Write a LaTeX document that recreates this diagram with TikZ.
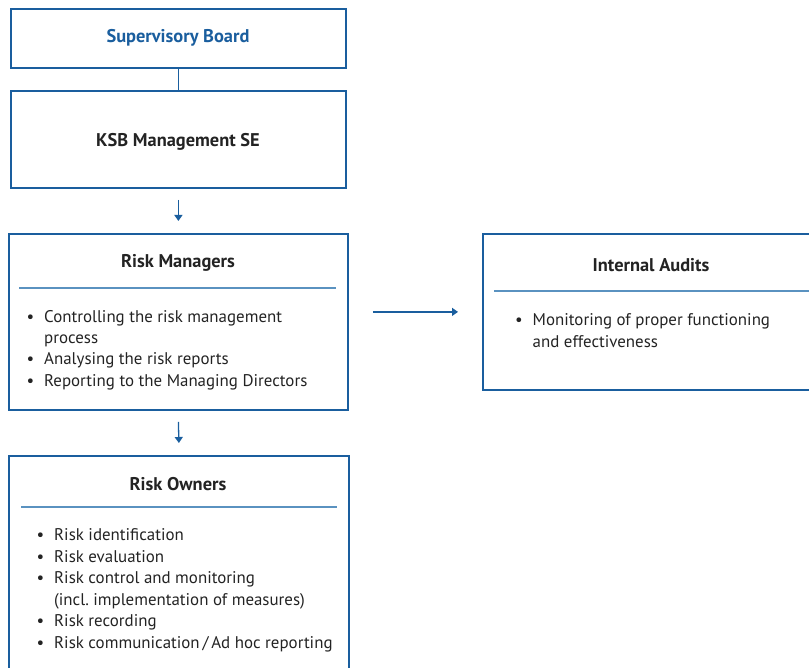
\documentclass[tikz,border=0pt]{standalone}
\usepackage{fontspec}
\setmainfont{PT Sans}
\usetikzlibrary{arrows.meta,calc}
\definecolor{ksbblue}{HTML}{1A5E9E}
\definecolor{seplight}{HTML}{5A92C0}
\definecolor{txt}{HTML}{232323}
\tikzset{
  box/.style={draw=ksbblue, line width=1.8pt, anchor=north west, inner sep=0pt},
  title/.style={font=\fontsize{18.4}{20}\selectfont\bfseries, text=txt, inner sep=0pt},
  listtext/.style={font=\fontsize{16.9}{21.5}\selectfont, text=txt, align=left, inner sep=0pt, anchor=base west},
  sepline/.style={draw=seplight, line width=1.3pt},
  conn/.style={draw=ksbblue, line width=1.3pt},
  arr/.style={conn, -{Triangle[width=8pt,length=6pt]}}
}
\newcommand{\bl}{\makebox[17.5pt][l]{\textbullet}}
\newcommand{\ind}{\hspace*{17.5pt}}
\begin{document}
\begin{tikzpicture}[x=1pt,y=-1pt]
\useasboundingbox (0,0) rectangle (809,668);
\clip (0,0) rectangle (809,668);
% boxes
\node[box, minimum width=335pt, minimum height=59pt] (sb) at (10,8) {};
\node[box, minimum width=335pt, minimum height=97pt] (ksb) at (10,90) {};
\node[box, minimum width=339pt, minimum height=176pt] (rm) at (8,233) {};
\node[box, minimum width=340pt, minimum height=156pt] (ia) at (482,233) {};
\node[box, minimum width=340pt, minimum height=240pt] (ro) at (8,455) {};
% titles
\node[title, text=ksbblue] (sbt) at (178,38) {Supervisory Board};
\node[title] (ksbt) at (178,142) {KSB Management SE};
\node[title] (rmt) at (178,263) {Risk Managers};
\node[title] (iat) at (651,265) {Internal Audits};
\node[title] (rot) at (178,484) {Risk Owners};
% separators
\draw[sepline] (19,288) -- (336,288);
\draw[sepline] (494,291) -- (812,291);
\draw[sepline] (21,507) -- (337,507);
% lists (anchor = baseline of last line)
\node[listtext] (rml) at (26.5,386.5) {\bl Controlling the risk management\\ \ind process\\ \bl Analysing the risk reports\\ \bl Reporting to the Managing Directors};
\node[listtext] (ial) at (515,347.5) {\bl Monitoring of proper functioning\\ \ind and effectiveness};
\node[listtext] (rol) at (36.5,648) {\bl Risk identification\\ \bl Risk evaluation\\ \bl Risk control and monitoring\\ \ind (incl.\ implementation of measures)\\ \bl Risk recording\\ \bl Risk communication\,/\,Ad hoc reporting};
% connectors
\draw[conn] (sb.south) -- (ksb.north);
\draw[arr] ($(ksb.south)+(0,11)$) -- ($(rm.north)+(0,-12)$);
\draw[arr] ($(rm.south)+(0,11)$) -- ($(ro.north)+(0,-12)$);
\draw[arr] ($(rm.east)+(24,-10)$) -- ($(ia.west)+(-24,0)$);
\end{tikzpicture}
\end{document}
